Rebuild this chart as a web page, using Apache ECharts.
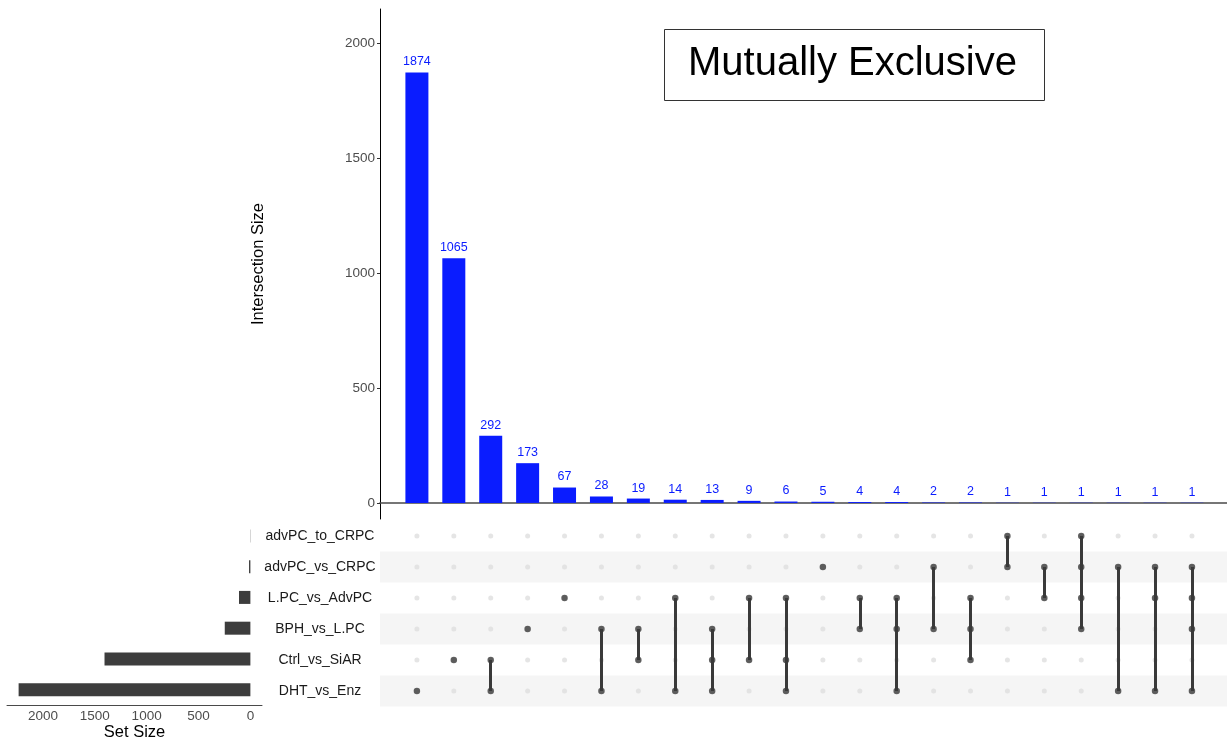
<!DOCTYPE html>
<html>
<head>
<meta charset="utf-8">
<title>UpSet plot – Mutually Exclusive</title>
<script src="https://cdn.jsdelivr.net/npm/echarts@6/dist/echarts.min.js"></script>
<style>
  html, body { margin: 0; padding: 0; background: #ffffff; }
  #chart { width: 1227px; height: 742px; }
</style>
</head>
<body>
<div id="chart"></div>
<script>
// Sets, top to bottom in the matrix
const sets = ['advPC_to_CRPC', 'advPC_vs_CRPC', 'L.PC_vs_AdvPC', 'BPH_vs_L.PC', 'Ctrl_vs_SiAR', 'DHT_vs_Enz'];
const setSizes = [2, 13, 110, 247, 1406, 2234];

// Intersections, sorted by size
const intersectionSizes = [1874, 1065, 292, 173, 67, 28, 19, 14, 13, 9, 6, 5, 4, 4, 2, 2, 1, 1, 1, 1, 1, 1];
const memberships = [
  ['DHT_vs_Enz'],
  ['Ctrl_vs_SiAR'],
  ['Ctrl_vs_SiAR', 'DHT_vs_Enz'],
  ['BPH_vs_L.PC'],
  ['L.PC_vs_AdvPC'],
  ['BPH_vs_L.PC', 'DHT_vs_Enz'],
  ['BPH_vs_L.PC', 'Ctrl_vs_SiAR'],
  ['L.PC_vs_AdvPC', 'DHT_vs_Enz'],
  ['BPH_vs_L.PC', 'Ctrl_vs_SiAR', 'DHT_vs_Enz'],
  ['L.PC_vs_AdvPC', 'Ctrl_vs_SiAR'],
  ['L.PC_vs_AdvPC', 'Ctrl_vs_SiAR', 'DHT_vs_Enz'],
  ['advPC_vs_CRPC'],
  ['L.PC_vs_AdvPC', 'BPH_vs_L.PC'],
  ['L.PC_vs_AdvPC', 'BPH_vs_L.PC', 'DHT_vs_Enz'],
  ['advPC_vs_CRPC', 'BPH_vs_L.PC'],
  ['L.PC_vs_AdvPC', 'BPH_vs_L.PC', 'Ctrl_vs_SiAR'],
  ['advPC_to_CRPC', 'advPC_vs_CRPC'],
  ['advPC_vs_CRPC', 'L.PC_vs_AdvPC'],
  ['advPC_to_CRPC', 'advPC_vs_CRPC', 'L.PC_vs_AdvPC', 'BPH_vs_L.PC'],
  ['advPC_vs_CRPC', 'DHT_vs_Enz'],
  ['advPC_vs_CRPC', 'L.PC_vs_AdvPC', 'DHT_vs_Enz'],
  ['advPC_vs_CRPC', 'L.PC_vs_AdvPC', 'BPH_vs_L.PC', 'DHT_vs_Enz']
];

const intersectionTicks = [0, 500, 1000, 1500, 2000];
const setSizeTicks = [0, 500, 1000, 1500, 2000];
const titleText = 'Mutually Exclusive';

const FONT = '"Liberation Sans", Arial, Helvetica, sans-serif';
const BLUE = '#0a1cff';
const DARK = '#3a3a3a';

// matrix rows are numbered 1..n from the top
const rowOf = name => sets.indexOf(name) + 1;

const bars = intersectionSizes.map((v, i) => [i + 1, v]);

const emptyDots = [];
intersectionSizes.forEach((_, i) => {
  sets.forEach((s, r) => emptyDots.push([i + 1, r + 1]));
});

const filledDots = [];
const connectors = [];
memberships.forEach((m, i) => {
  const rows = m.map(rowOf);
  rows.forEach(r => filledDots.push([i + 1, r]));
  if (rows.length > 1) {
    connectors.push({ coords: [[i + 1, Math.min(...rows)], [i + 1, Math.max(...rows)]] });
  }
});

const shadedRows = sets.map((s, r) => r + 1).filter(r => r % 2 === 0)
  .map(r => [{ yAxis: r - 0.5 }, { yAxis: r + 0.5 }]);

const plainNumber = v => String(v);

const chart = echarts.init(document.getElementById('chart'), null, { renderer: 'canvas' });

chart.setOption({
  animation: false,
  backgroundColor: '#ffffff',
  textStyle: { fontFamily: FONT },
  grid: [
    // intersection size bars
    { left: 380, top: 9, width: 847, height: 510 },
    // membership matrix
    { left: 380, top: 520.5, width: 847, height: 186 },
    // set size bars
    { left: 7, top: 520.5, width: 255, height: 186 }
  ],
  xAxis: [
    {
      gridIndex: 0, type: 'value', min: 0, max: 22.95,
      axisLine: { show: true, onZero: true, lineStyle: { color: '#4a4a4a', width: 1.6 } },
      axisTick: { show: false }, axisLabel: { show: false }, splitLine: { show: false }
    },
    {
      gridIndex: 1, type: 'value', min: 0, max: 22.95, show: false
    },
    {
      gridIndex: 2, type: 'value', min: -112, max: 2346, inverse: true,
      name: 'Set Size', nameLocation: 'middle', nameGap: 18,
      nameTextStyle: { fontSize: 16.5, color: '#000000', fontFamily: FONT },
      axisLine: { show: true, lineStyle: { color: '#4a4a4a', width: 1 } },
      axisTick: { show: false },
      axisLabel: { customValues: setSizeTicks, formatter: plainNumber, margin: 4, fontSize: 13.5, color: '#4d4d4d', fontFamily: FONT },
      splitLine: { show: false }
    }
  ],
  yAxis: [
    {
      gridIndex: 0, type: 'value', min: -70, max: 2150,
      name: 'Intersection Size', nameLocation: 'middle', nameGap: 113, nameRotate: 90,
      nameTextStyle: { fontSize: 16.5, color: '#000000', fontFamily: FONT },
      axisLine: { show: true, lineStyle: { color: '#000000', width: 1 } },
      axisTick: { show: true, customValues: intersectionTicks, length: 3, lineStyle: { color: '#333333' } },
      axisLabel: { customValues: intersectionTicks, formatter: plainNumber, margin: 5, fontSize: 13.5, color: '#4d4d4d', fontFamily: FONT },
      splitLine: { show: false }
    },
    {
      gridIndex: 1, type: 'value', min: 0.5, max: 6.5, inverse: true,
      axisLine: { show: false }, axisTick: { show: false }, splitLine: { show: false },
      axisLabel: {
        customValues: sets.map((s, r) => r + 1),
        formatter: v => sets[v - 1] || '',
        align: 'center', margin: 60, fontSize: 14, color: '#1a1a1a', fontFamily: FONT
      }
    },
    {
      gridIndex: 2, type: 'category', data: sets, inverse: true, show: false
    }
  ],
  series: [
    {
      type: 'bar', xAxisIndex: 0, yAxisIndex: 0,
      data: bars, barWidth: 23,
      itemStyle: { color: BLUE },
      label: { show: true, position: 'top', distance: 4, fontSize: 12.5, color: BLUE, fontFamily: FONT }
    },
    {
      type: 'scatter', xAxisIndex: 1, yAxisIndex: 1,
      data: emptyDots, symbolSize: 5, z: 2,
      itemStyle: { color: '#dedede' },
      markArea: {
        silent: true,
        itemStyle: { color: '#f5f5f5' },
        data: shadedRows
      }
    },
    {
      type: 'lines', coordinateSystem: 'cartesian2d', xAxisIndex: 1, yAxisIndex: 1,
      data: connectors, z: 3,
      lineStyle: { color: DARK, width: 3, opacity: 1 }
    },
    {
      type: 'scatter', xAxisIndex: 1, yAxisIndex: 1,
      data: filledDots, symbolSize: 6.5, z: 4,
      itemStyle: { color: DARK }
    },
    {
      type: 'bar', xAxisIndex: 2, yAxisIndex: 2,
      data: setSizes, barWidth: 13,
      itemStyle: { color: '#3d3d3d' }
    }
  ],
  graphic: [
    {
      type: 'group', left: 664, top: 29,
      children: [
        { type: 'rect', shape: { x: 0, y: 0, width: 380, height: 71 },
          style: { fill: '#ffffff', stroke: '#333333', lineWidth: 1 } },
        { type: 'text', x: 188, y: 34,
          style: { text: titleText, font: '40px ' + FONT, fill: '#000000', align: 'center', verticalAlign: 'middle' } }
      ]
    }
  ]
});
</script>
</body>
</html>
